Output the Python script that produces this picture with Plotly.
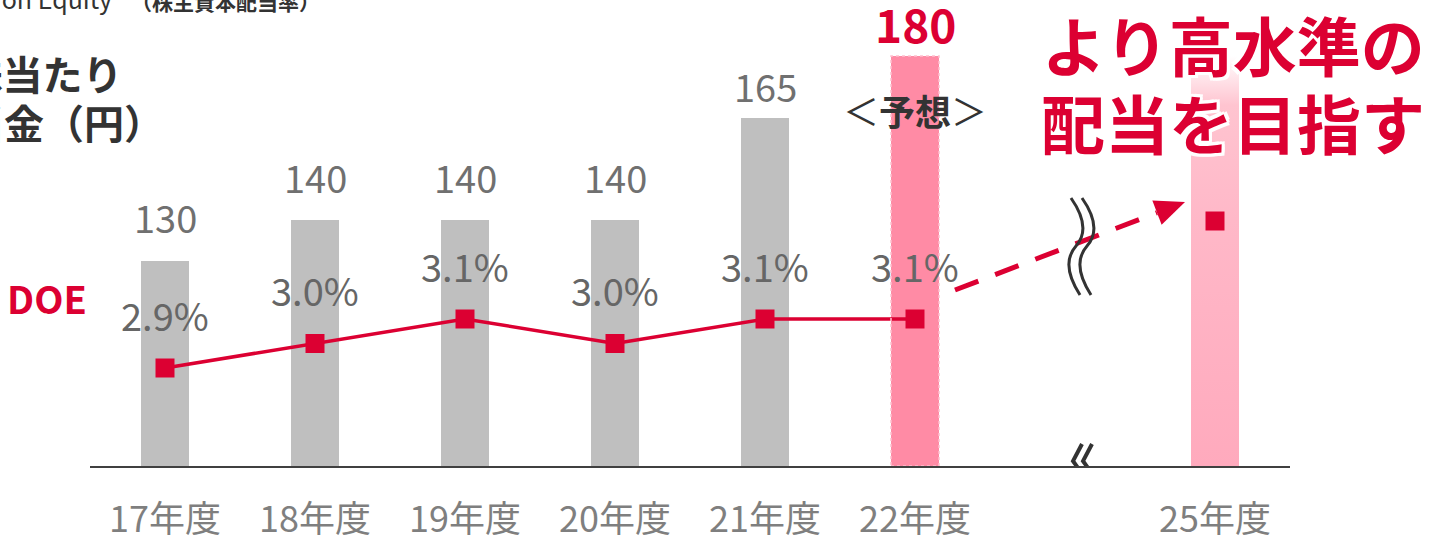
import plotly.graph_objects as go

# ---- data -------------------------------------------------------------
years = ["17年度", "18年度", "19年度", "20年度", "21年度", "22年度", "25年度"]
year_pos = [0, 1, 2, 3, 4, 5, 7]          # gap before 25年度 (axis break)
dividend = [130, 140, 140, 140, 165, 180]  # 1株当たり配当金（円）, 17–22年度
dividend_labels = ["130", "140", "140", "140", "165", "180"]
dividend_goal = 180                        # 25年度 bar (open-ended goal)
doe = [2.9, 3.0, 3.1, 3.0, 3.1, 3.1]       # DOE (%), 17–22年度
doe_labels = ["2.9%", "3.0%", "3.1%", "3.0%", "3.1%", "3.1%"]
doe_goal = 3.5                             # 25年度

# ---- geometry ---------------------------------------------------------
W, H = 1434, 535
ML, MR, MT, MB = 90, 144, 0, 69
PW, PH = W - ML - MR, H - MT - MB
X_RANGE = [-0.5, 7.5]
Y_RANGE = [80, 80 + PH / 4.1]
Y2_RANGE = [2.5, 2.5 + PH / 245]
BAR_W = 0.32

RED = "#DC0032"
GRAY_BAR = "#BFBFBF"
PINK = "#FF8BA5"
FONT = "Noto Sans CJK JP"

def x_px(x):
    return ML + (x - X_RANGE[0]) / (X_RANGE[1] - X_RANGE[0]) * PW

def y_px(v, rng):
    return MT + (rng[1] - v) / (rng[1] - rng[0]) * PH

def px_x(p):
    return X_RANGE[0] + (p - ML) / PW * (X_RANGE[1] - X_RANGE[0])

def px_y(p, rng=Y_RANGE):
    return rng[1] - (p - MT) / PH * (rng[1] - rng[0])

def py_paper(p):
    return (MT + PH - p) / PH

def px_paper(p):
    return (p - ML) / PW

fig = go.Figure()

# dividend bars 17–22
bar_colors = [GRAY_BAR] * 5 + [PINK]
fig.add_trace(go.Bar(
    x=year_pos[:6], y=dividend, width=BAR_W,
    marker=dict(color=bar_colors, line=dict(width=0)),
    hoverinfo="skip", showlegend=False,
))

# 25年度 goal bar with a fading top
gx = year_pos[6]
fig.add_trace(go.Scatter(
    x=[gx - BAR_W / 2, gx + BAR_W / 2, gx + BAR_W / 2, gx - BAR_W / 2, gx - BAR_W / 2],
    y=[Y_RANGE[0], Y_RANGE[0], dividend_goal, dividend_goal, Y_RANGE[0]],
    mode="lines", line=dict(width=0), fill="toself",
    fillgradient=dict(type="vertical",
                      colorscale=[[0, "#FFAABD"], [0.6, "#FFB8C8"],
                                  [0.88, "#FFC4D0"], [1, "#FFFFFF"]]),
    hoverinfo="skip", showlegend=False,
))

# DOE line
fig.add_trace(go.Scatter(
    x=year_pos[:6], y=doe, yaxis="y2", mode="lines+markers",
    line=dict(color=RED, width=3.5),
    marker=dict(symbol="square", size=19, color=RED),
    hoverinfo="skip", showlegend=False,
))
fig.add_trace(go.Scatter(
    x=[year_pos[6]], y=[doe_goal], yaxis="y2", mode="markers",
    marker=dict(symbol="square", size=19, color=RED),
    hoverinfo="skip", showlegend=False,
))

annotations = []

# dividend value labels
value_lift = [45, 44, 44, 44, 32, 33]
for i, (x, v, t) in enumerate(zip(year_pos, dividend, dividend_labels)):
    last = i == len(dividend) - 1
    annotations.append(dict(
        x=x, y=v, xref="x", yref="y", text=f"<b>{t}</b>" if last else t,
        showarrow=False, xanchor="center", yanchor="middle", yshift=value_lift[i],
        font=dict(family=FONT, size=46 if last else 38,
                  color=RED if last else "#707070"),
    ))

# DOE labels
for x, v, t in zip(year_pos, doe, doe_labels):
    annotations.append(dict(
        x=x, y=v, xref="x", yref="y2", text=t, showarrow=False,
        xanchor="center", yanchor="middle", yshift=54,
        font=dict(family=FONT, size=38, color="#666666"),
    ))

# forecast tag
annotations.append(dict(
    x=year_pos[5], y=py_paper(110), xref="x", yref="paper",
    text="＜<b>予想</b>＞", showarrow=False, xanchor="center", yanchor="middle",
    font=dict(family=FONT, size=36, color="#333333"),
))

# headline
halo = ", ".join(f"{a}px {b}px 0 #ffffff" for a in (-3, 0, 3) for b in (-3, 0, 3))
for text, yc in (("より高水準の", 43), ("配当を目指す", 121)):
    annotations.append(dict(
        x=px_paper(1233), y=py_paper(yc), xref="paper", yref="paper",
        text=f"<b>{text}</b>", showarrow=False, xanchor="center", yanchor="middle",
        font=dict(family=FONT, size=64, color=RED, shadow=halo),
    ))

# series titles
annotations.append(dict(
    x=px_paper(5), y=py_paper(297), xref="paper", yref="paper",
    text="<b>DOE</b>", showarrow=False, xanchor="left", yanchor="middle",
    font=dict(family=FONT, size=38, color=RED),
))
annotations.append(dict(
    x=px_paper(125), y=py_paper(73), xref="paper", yref="paper",
    text="<b>1株当たり</b>", showarrow=False, xanchor="right", yanchor="middle",
    font=dict(family=FONT, size=40, color="#333333"),
))
annotations.append(dict(
    x=px_paper(166), y=py_paper(122), xref="paper", yref="paper",
    text="<b>配当金（円）</b>", showarrow=False, xanchor="right", yanchor="middle",
    font=dict(family=FONT, size=40, color="#333333"),
))
annotations.append(dict(
    x=px_paper(114), y=py_paper(18), xref="paper", yref="paper",
    text="Dividend on Equity", showarrow=False, xanchor="right", yanchor="bottom",
    font=dict(family=FONT, size=25, color="#333333"),
))
annotations.append(dict(
    x=px_paper(322), y=py_paper(18), xref="paper", yref="paper",
    text="<b>（株主資本配当率）</b>", showarrow=False, xanchor="right", yanchor="bottom",
    font=dict(family=FONT, size=21, color="#333333"),
))

shapes = []

# dashed outline of the forecast bar
shapes.append(dict(
    type="rect", xref="x", yref="y",
    x0=year_pos[5] - BAR_W / 2, x1=year_pos[5] + BAR_W / 2,
    y0=Y_RANGE[0], y1=dividend[5],
    line=dict(color="#FFC0CE", width=1.5, dash="dot"), fillcolor="rgba(0,0,0,0)",
))

# dashed arrow from the 22年度 DOE towards the 25年度 goal
sx, sy = x_px(year_pos[5]) + 40, y_px(doe[5], Y2_RANGE) - 29
tx, ty = x_px(year_pos[6]) - 30, y_px(doe_goal, Y2_RANGE) - 19
dx, dy = tx - sx, ty - sy
L = (dx * dx + dy * dy) ** 0.5
ux, uy = dx / L, dy / L
bx, by = tx - 30 * ux, ty - 30 * uy
shapes.append(dict(
    type="line", xref="x", yref="y",
    x0=px_x(sx), y0=px_y(sy), x1=px_x(bx), y1=px_y(by),
    line=dict(color=RED, width=5, dash="25px,18px"),
))
c1 = (bx - 13 * uy, by + 13 * ux)
c2 = (bx + 13 * uy, by - 13 * ux)
shapes.append(dict(
    type="path", xref="x", yref="y",
    path=(f"M{px_x(tx)},{px_y(ty)} L{px_x(c1[0])},{px_y(c1[1])} "
          f"L{px_x(c2[0])},{px_y(c2[1])} Z"),
    fillcolor=RED, line=dict(width=0),
))

# axis-break marks
BREAK_PX = 1071
for off in (0, 11):
    x0 = BREAK_PX + off
    shapes.append(dict(
        type="path", xref="x", yref="y",
        path=(f"M{px_x(x0)},{px_y(198)} Q{px_x(x0 + 21)},{px_y(228)} "
              f"{px_x(x0 + 5)},{px_y(246)} T{px_x(x0 + 9)},{px_y(295)}"),
        line=dict(color="#333333", width=3),
    ))
for off in (0, 10):
    x0 = 1073 + off
    shapes.append(dict(
        type="path", xref="x", yref="y",
        path=(f"M{px_x(x0 + 9)},{px_y(444)} L{px_x(x0)},{px_y(461)} "
              f"L{px_x(x0 + 10)},{px_y(475)}"),
        line=dict(color="#333333", width=4),
    ))

fig.update_layout(
    width=W, height=H,
    margin=dict(l=ML, r=MR, t=MT, b=MB, autoexpand=False),
    paper_bgcolor="#ffffff", plot_bgcolor="#ffffff",
    font=dict(family=FONT),
    bargap=0,
    xaxis=dict(
        range=X_RANGE, tickmode="array", tickvals=year_pos, ticktext=years,
        showline=True, linecolor="#404040", linewidth=2,
        ticks="outside", ticklen=21, tickcolor="rgba(0,0,0,0)",
        tickfont=dict(family=FONT, size=36, color="#7F7F7F"),
        showgrid=False, zeroline=False, fixedrange=True, automargin=False,
    ),
    yaxis=dict(range=Y_RANGE, visible=False, showgrid=False, zeroline=False),
    yaxis2=dict(range=Y2_RANGE, overlaying="y", visible=False,
                showgrid=False, zeroline=False),
    annotations=annotations,
    shapes=shapes,
    showlegend=False,
)

fig.write_html("out.html")
